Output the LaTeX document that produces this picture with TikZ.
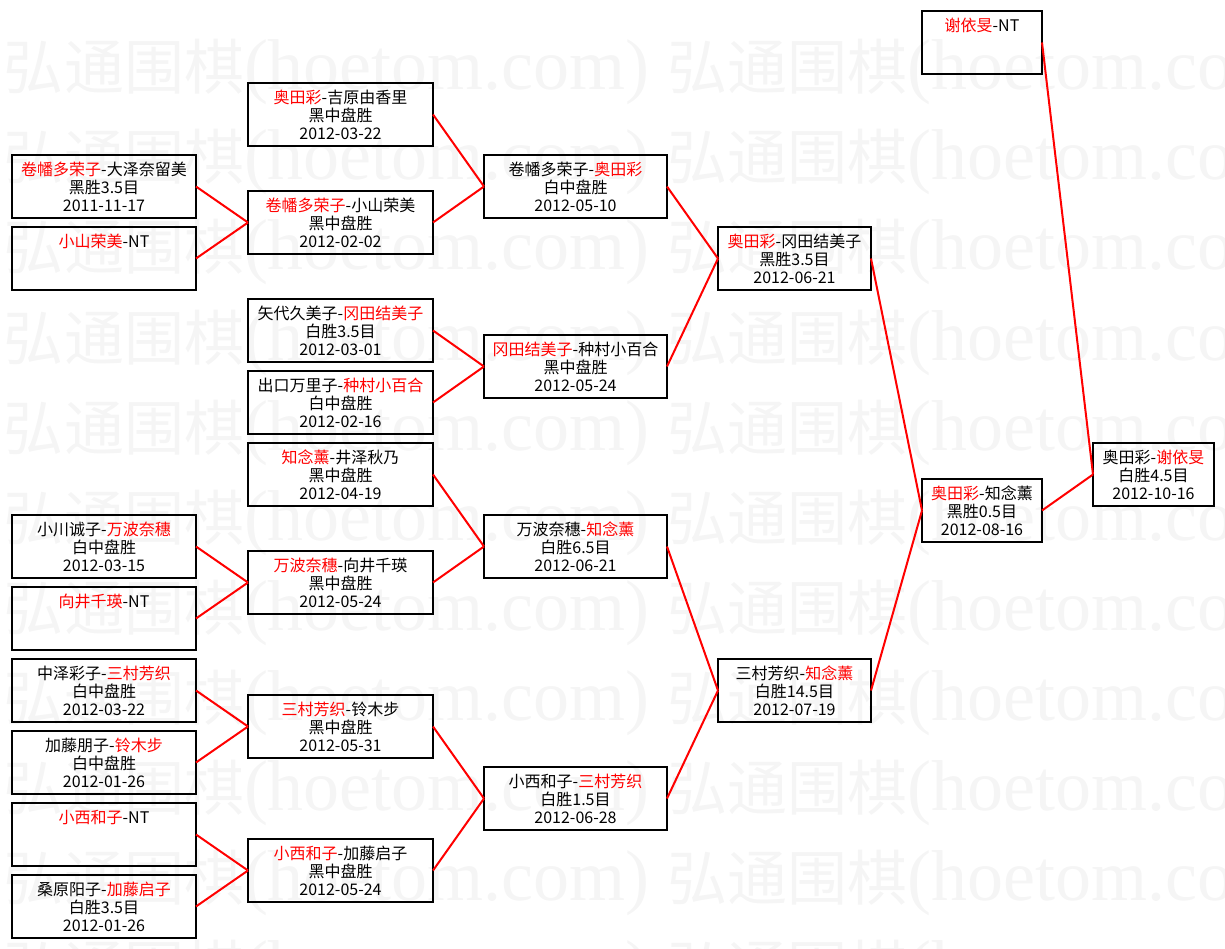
\documentclass[tikz,border=0pt]{standalone}
\usepackage{fontspec}
\setmainfont{Noto Sans CJK SC}
\newfontfamily\wmlatin{Liberation Serif}
\newcommand{\rd}[1]{\textcolor{red}{#1}}
\newcommand{\wmunit}{弘通围棋{\wmlatin\fontsize{72pt}{72pt}\selectfont (hoetom.com)}\hspace{18pt}}

\begin{document}
\begin{tikzpicture}[x=1pt,y=-1pt,inner sep=0pt,outer sep=0pt,line width=2pt,
gamebox/.style={draw,rectangle,minimum height=63pt,align=center,font=\fontsize{16pt}{18pt}\selectfont},
rone/.style={gamebox,minimum width=184pt},
rtwo/.style={gamebox,minimum width=185pt},
rthree/.style={gamebox,minimum width=183pt},
rfour/.style={gamebox,minimum width=153pt},
rfive/.style={gamebox,minimum width=120pt},
rsix/.style={gamebox,minimum width=121pt},
link/.style={red,line width=2pt},
wmark/.style={text=black!4,anchor=base west,font=\fontsize{60pt}{60pt}\selectfont}]

\useasboundingbox (0,0) rectangle (1225,949);

% watermark
\begin{scope}
\clip (0,0) rectangle (1225,949);
\foreach \i in {0,...,10}
  \node[wmark] (wm\i) at (4,{90+90*\i}) {\wmunit\wmunit};
\end{scope}

% round 1
\draw (104,186.5) node[rone] (a1) {\rd{卷幡多荣子}-大泽奈留美\\黑胜3.5目\\2011-11-17};
\draw (104,258.5) node[rone] (a2) {\rd{小山荣美}-NT\\\mbox{}\\\mbox{}};
\draw (104,546.5) node[rone] (a3) {小川诚子-\rd{万波奈穗}\\白中盘胜\\2012-03-15};
\draw (104,618.5) node[rone] (a4) {\rd{向井千瑛}-NT\\\mbox{}\\\mbox{}};
\draw (104,690.5) node[rone] (a5) {中泽彩子-\rd{三村芳织}\\白中盘胜\\2012-03-22};
\draw (104,762.5) node[rone] (a6) {加藤朋子-\rd{铃木步}\\白中盘胜\\2012-01-26};
\draw (104,834.5) node[rone] (a7) {\rd{小西和子}-NT\\\mbox{}\\\mbox{}};
\draw (104,906.5) node[rone] (a8) {桑原阳子-\rd{加藤启子}\\白胜3.5目\\2012-01-26};

% round 2
\draw (340.5,114.5) node[rtwo] (b1) {\rd{奥田彩}-吉原由香里\\黑中盘胜\\2012-03-22};
\draw (340.5,222.5) node[rtwo] (b2) {\rd{卷幡多荣子}-小山荣美\\黑中盘胜\\2012-02-02};
\draw (340.5,330.5) node[rtwo] (b3) {矢代久美子-\rd{冈田结美子}\\白胜3.5目\\2012-03-01};
\draw (340.5,402.5) node[rtwo] (b4) {出口万里子-\rd{种村小百合}\\白中盘胜\\2012-02-16};
\draw (340.5,474.5) node[rtwo] (b5) {\rd{知念薰}-井泽秋乃\\黑中盘胜\\2012-04-19};
\draw (340.5,582.5) node[rtwo] (b6) {\rd{万波奈穗}-向井千瑛\\黑中盘胜\\2012-05-24};
\draw (340.5,726.5) node[rtwo] (b7) {\rd{三村芳织}-铃木步\\黑中盘胜\\2012-05-31};
\draw (340.5,870.5) node[rtwo] (b8) {\rd{小西和子}-加藤启子\\黑中盘胜\\2012-05-24};

% round 3
\draw (575.5,186.5) node[rthree] (c1) {卷幡多荣子-\rd{奥田彩}\\白中盘胜\\2012-05-10};
\draw (575.5,366.5) node[rthree] (c2) {\rd{冈田结美子}-种村小百合\\黑中盘胜\\2012-05-24};
\draw (575.5,546.5) node[rthree] (c3) {万波奈穗-\rd{知念薰}\\白胜6.5目\\2012-06-21};
\draw (575.5,798.5) node[rthree] (c4) {小西和子-\rd{三村芳织}\\白胜1.5目\\2012-06-28};

% round 4
\draw (794.5,258.5) node[rfour] (d1) {\rd{奥田彩}-冈田结美子\\黑胜3.5目\\2012-06-21};
\draw (794.5,690.5) node[rfour] (d2) {三村芳织-\rd{知念薰}\\白胜14.5目\\2012-07-19};

% round 5 and final
\draw (982,42.5) node[rfive] (e0) {\rd{谢依旻}-NT\\\mbox{}\\\mbox{}};
\draw (982,510.5) node[rfive] (e1) {\rd{奥田彩}-知念薰\\黑胜0.5目\\2012-08-16};
\draw (1153.5,474.5) node[rsix] (f) {奥田彩-\rd{谢依旻}\\白胜4.5目\\2012-10-16};

\draw[link] (a1.0) -- (b2.180);
\draw[link] (a2.0) -- (b2.180);
\draw[link] (a3.0) -- (b6.180);
\draw[link] (a4.0) -- (b6.180);
\draw[link] (a5.0) -- (b7.180);
\draw[link] (a6.0) -- (b7.180);
\draw[link] (a7.0) -- (b8.180);
\draw[link] (a8.0) -- (b8.180);

\draw[link] (b1.0) -- (c1.180);
\draw[link] (b2.0) -- (c1.180);
\draw[link] (b3.0) -- (c2.180);
\draw[link] (b4.0) -- (c2.180);
\draw[link] (b5.0) -- (c3.180);
\draw[link] (b6.0) -- (c3.180);
\draw[link] (b7.0) -- (c4.180);
\draw[link] (b8.0) -- (c4.180);

\draw[link] (c1.0) -- (d1.180);
\draw[link] (c2.0) -- (d1.180);
\draw[link] (c3.0) -- (d2.180);
\draw[link] (c4.0) -- (d2.180);

\draw[link] (d1.0) -- (e1.180);
\draw[link] (d2.0) -- (e1.180);
\draw[link] (e0.0) -- (f.180);
\draw[link] (e1.0) -- (f.180);

\end{tikzpicture}
\end{document}
